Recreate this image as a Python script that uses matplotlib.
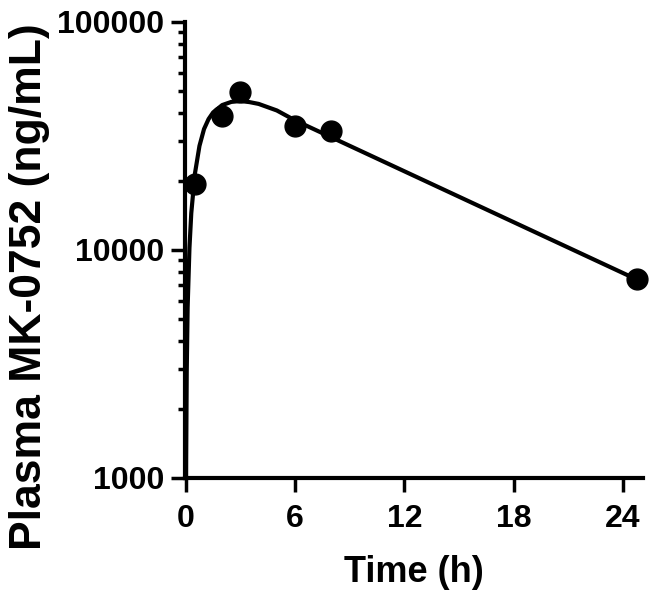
import matplotlib
matplotlib.use("Agg")
import matplotlib.pyplot as plt
from matplotlib.ticker import FixedLocator, FixedFormatter, LogLocator, NullFormatter

# observed plasma concentrations
time_obs = [0.5, 2, 3, 6, 8, 24.8]
conc_obs = [19500, 38700, 49300, 35000, 33200, 7450]

# fitted curve
time_fit = [0.015, 0.02, 0.05, 0.1, 0.2, 0.3, 0.5, 0.75, 1, 1.25, 1.5, 2, 2.5, 3, 3.5, 4, 5, 6, 24.8]
conc_fit = [900, 1200, 2900, 5600, 10200, 14500, 21600, 28600, 33900, 37500, 40100, 43200,
            44600, 45000, 44500, 43700, 40900, 37000, 7400]

x_ticks = [0, 6, 12, 18, 24]
y_ticks = [1000, 10000, 100000]

plt.rcParams['font.family'] = ['Liberation Sans', 'DejaVu Sans']
plt.rcParams['font.weight'] = 'bold'

fig = plt.figure(figsize=(6.58, 5.93), dpi=100)
ax = fig.add_axes([0.281, 0.194, 0.696, 0.769])

ax.plot(time_fit, conc_fit, color='black', lw=3, solid_capstyle='butt', clip_on=True)
ax.plot(time_obs, conc_obs, 'o', color='black', ms=15, clip_on=False, zorder=3)

ax.set_yscale('log')
ax.set_ylim(1000, 100000)
ax.set_xlim(-0.05, 25.1)

ax.xaxis.set_major_locator(FixedLocator(x_ticks))
ax.set_xticklabels([str(t) for t in x_ticks])
ax.yaxis.set_major_locator(FixedLocator(y_ticks))
ax.yaxis.set_major_formatter(FixedFormatter([str(t) for t in y_ticks]))
ax.yaxis.set_minor_locator(LogLocator(base=10, subs=range(2, 10)))
ax.yaxis.set_minor_formatter(NullFormatter())

for side in ['top', 'right']:
    ax.spines[side].set_visible(False)
for side in ['left', 'bottom']:
    ax.spines[side].set_linewidth(3)

ax.tick_params(axis='both', which='major', length=10, width=2.5, labelsize=23)
ax.tick_params(axis='x', which='major', pad=9)
ax.tick_params(axis='y', which='major', pad=5)
ax.tick_params(axis='y', which='minor', length=5, width=2.5)
ax.tick_params(axis='x', which='minor', length=0)
for lab in ax.get_xticklabels() + ax.get_yticklabels():
    lab.set_fontweight('bold')

ax.set_xlabel("Time (h)", fontsize=26, fontweight='bold', labelpad=15)
ax.set_ylabel("Plasma MK-0752 (ng/mL)", fontsize=32, fontweight='bold', va='center')
ax.yaxis.set_label_coords(-0.34, 0.42)

plt.savefig("out.png", dpi=100)
